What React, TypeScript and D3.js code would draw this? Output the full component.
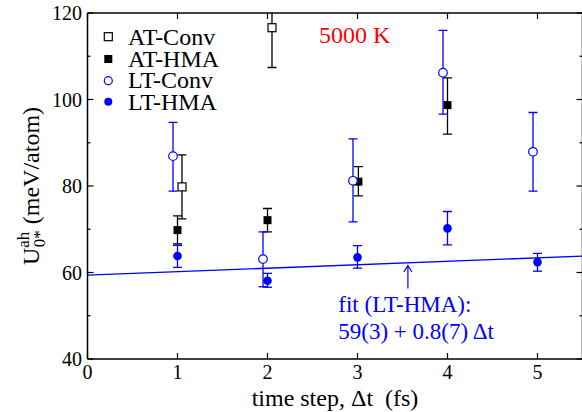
import React from "react";
import * as d3 from "d3";

const xTicks = [0, 1, 2, 3, 4, 5];
const yMajor = [40, 60, 80, 100, 120];
const yMinor = [50, 70, 90, 110];

const atConvX = [1.05, 2.05];
const atConvY = [79.8, 116.6];
const atConvLo = [72.4, 107.4];
const atConvHi = [87.2, 125.8];

const atHmaX = [1, 2, 3.01, 4];
const atHmaY = [69.8, 72.1, 81.0, 98.7];
const atHmaLo = [66.6, 69.4, 77.7, 92.0];
const atHmaHi = [73.1, 74.8, 84.5, 105.0];

const ltConvX = [0.95, 1.95, 2.95, 3.95, 4.95];
const ltConvY = [86.9, 63.1, 81.2, 106.2, 87.9];
const ltConvLo = [78.8, 56.7, 71.7, 96.6, 78.8];
const ltConvHi = [94.7, 69.4, 90.9, 116.0, 97.0];

const ltHmaX = [1, 2, 3, 4, 5];
const ltHmaY = [63.8, 58.1, 63.5, 70.2, 62.4];
const ltHmaLo = [61.2, 56.6, 61.0, 66.4, 60.3];
const ltHmaHi = [66.3, 59.8, 66.2, 74.1, 64.4];

const fitIntercept = 59.4;
const fitSlope = 0.8;

const legendLabels = ["AT-Conv", "AT-HMA", "LT-Conv", "LT-HMA"];

const W = 582;
const H = 412;
const L = 87.5;
const R = 582.5;
const T = 13;
const B = 359;
const FONT = "'Liberation Serif', 'Times New Roman', serif";
const BLUE = "#0000ff";

export default function App() {
  const x = d3.scaleLinear().domain([0, 5.5]).range([L, R]);
  const y = d3.scaleLinear().domain([40, 120]).range([B, T]);

  const errBars = (xs: number[], lo: number[], hi: number[], color: string, key: string) =>
    xs.map((xv, i) => (
      <g key={key + i} stroke={color} strokeWidth={1.3}>
        <line x1={x(xv)} x2={x(xv)} y1={y(lo[i])} y2={y(hi[i])} />
        <line x1={x(xv) - 4.5} x2={x(xv) + 4.5} y1={y(lo[i])} y2={y(lo[i])} />
        <line x1={x(xv) - 4.5} x2={x(xv) + 4.5} y1={y(hi[i])} y2={y(hi[i])} />
      </g>
    ));

  const fitLine = d3
    .line<number>()
    .x((d) => x(d))
    .y((d) => y(fitIntercept + fitSlope * d));

  const arrowX = x(3.56);

  return (
    <svg
      width={W}
      height={H}
      style={{ position: "absolute", left: 0, top: 0, background: "#fff" }}
      fontFamily={FONT}
    >
      <defs>
        <clipPath id="plot">
          <rect x={L} y={T} width={R - L} height={B - T} />
        </clipPath>
      </defs>
      <rect x={0} y={0} width={W} height={H} fill="#fff" />

      {/* data */}
      <g clipPath="url(#plot)">
        <path d={fitLine([0, 5.5]) || ""} stroke={BLUE} strokeWidth={1.4} fill="none" />
        {errBars(atConvX, atConvLo, atConvHi, "#000", "ac")}
        {atConvX.map((xv, i) => (
          <rect key={"acm" + i} x={x(xv) - 4} y={y(atConvY[i]) - 4} width={8} height={8} fill="#fff" stroke="#000" strokeWidth={1.2} />
        ))}
        {errBars(atHmaX, atHmaLo, atHmaHi, "#000", "ah")}
        {atHmaX.map((xv, i) => (
          <rect key={"ahm" + i} x={x(xv) - 4} y={y(atHmaY[i]) - 4} width={8} height={8} fill="#000" />
        ))}
        {errBars(ltConvX, ltConvLo, ltConvHi, BLUE, "lc")}
        {ltConvX.map((xv, i) => (
          <circle key={"lcm" + i} cx={x(xv)} cy={y(ltConvY[i])} r={4.3} fill="#fff" stroke={BLUE} strokeWidth={1.2} />
        ))}
        {errBars(ltHmaX, ltHmaLo, ltHmaHi, BLUE, "lh")}
        {ltHmaX.map((xv, i) => (
          <circle key={"lhm" + i} cx={x(xv)} cy={y(ltHmaY[i])} r={4.3} fill={BLUE} />
        ))}
      </g>

      {/* frame */}
      <g stroke="#000" strokeWidth={1.5} fill="none">
        <line x1={L} x2={R} y1={T} y2={T} />
        <line x1={L} x2={R} y1={B} y2={B} />
        <line x1={L} x2={L} y1={T} y2={B} />
        <line x1={R} x2={R} y1={T} y2={B} />
      </g>

      {/* x ticks */}
      <g stroke="#000" strokeWidth={1.2}>
        {xTicks.map((t) => (
          <g key={"xt" + t}>
            <line x1={x(t)} x2={x(t)} y1={B} y2={B - 6} />
            <line x1={x(t)} x2={x(t)} y1={T} y2={T + 6} />
          </g>
        ))}
        {yMajor.map((t) => (
          <g key={"ymt" + t}>
            <line x1={L} x2={L + 6} y1={y(t)} y2={y(t)} />
            <line x1={R} x2={R - 6} y1={y(t)} y2={y(t)} />
          </g>
        ))}
        {yMinor.map((t) => (
          <g key={"ymn" + t}>
            <line x1={L} x2={L + 3} y1={y(t)} y2={y(t)} />
            <line x1={R} x2={R - 3} y1={y(t)} y2={y(t)} />
          </g>
        ))}
      </g>

      {/* tick labels */}
      <g fontSize={20} fill="#000">
        {xTicks.map((t) => (
          <text key={"xl" + t} x={x(t)} y={379} textAnchor="middle">
            {t}
          </text>
        ))}
        {yMajor.map((t) => (
          <text key={"yl" + t} x={82} y={y(t) + 7} textAnchor="end">
            {t}
          </text>
        ))}
      </g>

      {/* axis labels */}
      <text
        x={(L + R) / 2}
        y={405.5}
        textAnchor="middle"
        fontSize={24}
        style={{ whiteSpace: "pre" }}
      >
        {"time step, \u0394t  (fs)"}
      </text>
      <text transform={`translate(38.5,${(T + B) / 2}) rotate(-90)`} textAnchor="middle" fontSize={24} style={{ whiteSpace: "pre" }}>
        <tspan>U</tspan>
        <tspan fontSize={17} dy={-10}>ah</tspan>
        <tspan fontSize={17} dx={-15.6} dy={16}>0*</tspan>
        <tspan dy={-6}>{" (meV/atom)"}</tspan>
      </text>

      {/* legend */}
      <g fontSize={24}>
        <rect x={108.3 - 4} y={36.7 - 4} width={8} height={8} fill="#fff" stroke="#000" strokeWidth={1.2} />
        <rect x={108.3 - 4} y={59 - 4} width={8} height={8} fill="#000" />
        <circle cx={108.3} cy={80.7} r={4} fill="#fff" stroke={BLUE} strokeWidth={1.2} />
        <circle cx={108.3} cy={101.7} r={4} fill={BLUE} />
        {legendLabels.map((lab, i) => (
          <text key={lab} x={128} y={45 + i * 21.7}>
            {lab}
          </text>
        ))}
      </g>

      <text x={319} y={43.3} fontSize={24} fill="#ff0000">
        5000 K
      </text>

      {/* fit annotation */}
      <g stroke={BLUE} strokeWidth={1.2} fill="none">
        <line x1={arrowX} x2={arrowX} y1={288.5} y2={266} />
        <path d={`M${arrowX - 4},${272} L${arrowX},${265.5} L${arrowX + 4},${272}`} />
      </g>
      <g fontSize={23} fill={BLUE}>
        <text x={338.3} y={311.5}>fit (LT-HMA):</text>
        <text x={338.3} y={339} style={{ whiteSpace: "pre" }}>{"59(3) + 0.8(7) \u0394t"}</text>
      </g>
    </svg>
  );
}
